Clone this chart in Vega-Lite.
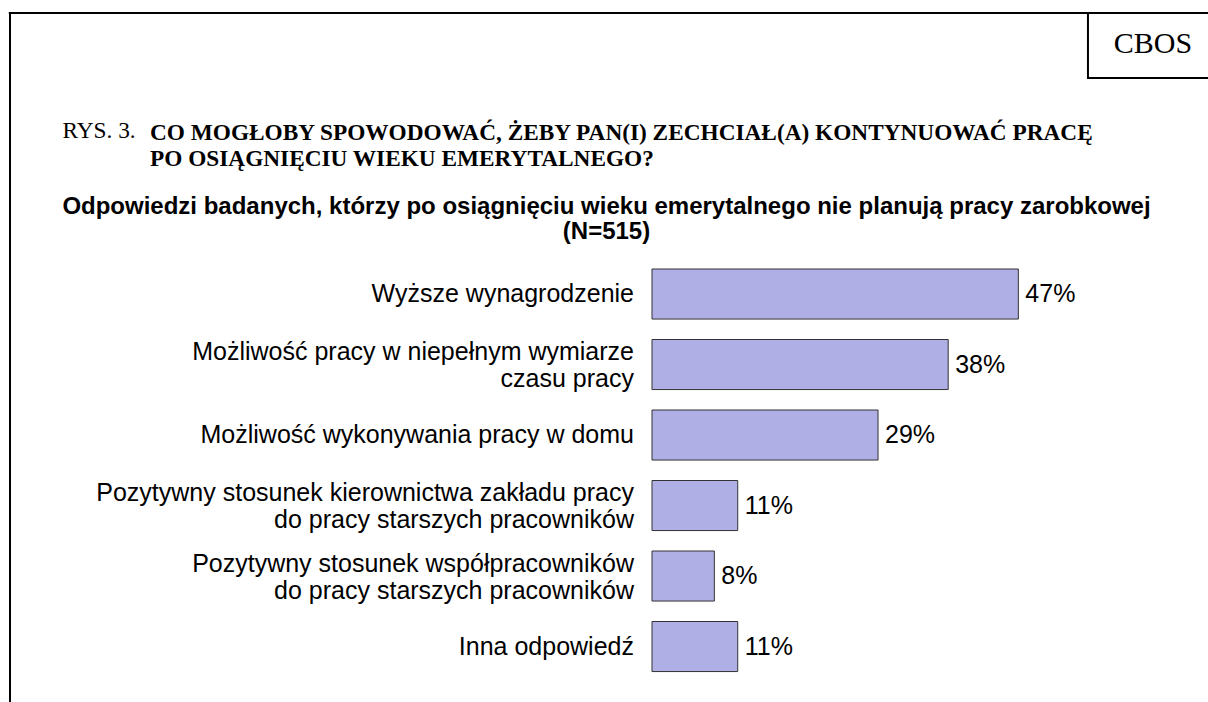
{
  "$schema": "https://vega.github.io/schema/vega-lite/v6.json",
  "width": 1198,
  "height": 689,
  "autosize": {"type": "none"},
  "padding": {"left": 10, "top": 13, "right": 0, "bottom": 0},
  "background": "white",
  "config": {"view": {"stroke": null}},
  "title": {
    "text": ["CO MOGŁOBY SPOWODOWAĆ, ŻEBY PAN(I) ZECHCIAŁ(A) KONTYNUOWAĆ PRACĘ", "PO OSIĄGNIĘCIU WIEKU EMERYTALNEGO?"],
    "anchor": "start",
    "frame": "group",
    "dx": 140,
    "offset": -177,
    "baseline": "alphabetic",
    "font": "Liberation Serif",
    "fontSize": 23.3,
    "fontWeight": "bold",
    "lineHeight": 26,
    "color": "black"
  },
  "layer": [
    {
      "data": {
        "values": [
          {"odpowiedz": "Wyższe wynagrodzenie", "etykieta": ["Wyższe wynagrodzenie"], "procent": 0.47},
          {"odpowiedz": "Możliwość pracy w niepełnym wymiarze czasu pracy", "etykieta": ["Możliwość pracy w niepełnym wymiarze", "czasu pracy"], "procent": 0.38},
          {"odpowiedz": "Możliwość wykonywania pracy w domu", "etykieta": ["Możliwość wykonywania pracy w domu"], "procent": 0.29},
          {"odpowiedz": "Pozytywny stosunek kierownictwa zakładu pracy do pracy starszych pracowników", "etykieta": ["Pozytywny stosunek kierownictwa zakładu pracy", "do pracy starszych pracowników"], "procent": 0.11},
          {"odpowiedz": "Pozytywny stosunek współpracowników do pracy starszych pracowników", "etykieta": ["Pozytywny stosunek współpracowników", "do pracy starszych pracowników"], "procent": 0.08},
          {"odpowiedz": "Inna odpowiedź", "etykieta": ["Inna odpowiedź"], "procent": 0.11}
        ]
      },
      "encoding": {
        "y": {
          "field": "odpowiedz",
          "type": "nominal",
          "sort": null,
          "scale": {"range": [256, 658.56], "paddingInner": 0.29, "paddingOuter": 0},
          "axis": {
            "title": "RYS. 3.",
            "labels": false,
            "ticks": false,
            "domain": false,
            "grid": false,
            "titleAngle": 0,
            "titleX": 52,
            "titleY": 124,
            "titleAlign": "left",
            "titleBaseline": "alphabetic",
            "titleFont": "Liberation Serif",
            "titleFontSize": 23.3,
            "titleFontWeight": "normal",
            "titleColor": "black"
          }
        }
      },
      "layer": [
        {
          "mark": {"type": "bar", "fill": "#AFAFE6", "stroke": "#333333", "strokeWidth": 1},
          "encoding": {
            "x": {
              "field": "procent",
              "type": "quantitative",
              "scale": {"domain": [-0.8236, 0.7133], "nice": false, "zero": false},
              "axis": {
                "orient": "top",
                "title": ["Odpowiedzi badanych, którzy po osiągnięciu wieku emerytalnego nie planują pracy zarobkowej", "(N=515)"],
                "labels": false,
                "ticks": false,
                "domain": false,
                "grid": false,
                "titleX": 596,
                "titleY": 200,
                "titleAlign": "center",
                "titleBaseline": "alphabetic",
                "titleFont": "Liberation Sans",
                "titleFontSize": 24,
                "titleFontWeight": "bold",
                "titleLineHeight": 25,
                "titleColor": "black"
              }
            },
            "x2": {"datum": 0}
          }
        },
        {
          "mark": {"type": "text", "align": "left", "baseline": "middle", "dx": 7, "font": "Liberation Sans", "fontSize": 25, "color": "black"},
          "encoding": {
            "x": {"field": "procent", "type": "quantitative"},
            "text": {"field": "procent", "type": "quantitative", "format": ".0%"}
          }
        },
        {
          "transform": [{"filter": "length(datum.etykieta) == 1"}],
          "mark": {"type": "text", "align": "right", "baseline": "middle", "dx": -18, "font": "Liberation Sans", "fontSize": 25, "lineHeight": 27, "color": "black"},
          "encoding": {
            "x": {"datum": 0, "type": "quantitative"},
            "text": {"field": "etykieta"}
          }
        },
        {
          "transform": [{"filter": "length(datum.etykieta) > 1"}],
          "mark": {"type": "text", "align": "right", "baseline": "middle", "dx": -18, "dy": -12.5, "font": "Liberation Sans", "fontSize": 25, "lineHeight": 27, "color": "black"},
          "encoding": {
            "x": {"datum": 0, "type": "quantitative"},
            "text": {"field": "etykieta"}
          }
        }
      ]
    },
    {
      "data": {"values": [{"znak": "CBOS"}]},
      "layer": [
        {
          "mark": {"type": "rule", "stroke": "black", "strokeWidth": 2},
          "encoding": {
            "x": {"datum": -0.1, "type": "quantitative", "scale": {"domain": [0, 100], "nice": false, "zero": false}, "axis": null},
            "x2": {"datum": 110},
            "y": {"datum": 0, "type": "quantitative", "scale": {"domain": [0, 100], "reverse": true, "nice": false, "zero": false}, "axis": null}
          }
        },
        {
          "mark": {"type": "rule", "stroke": "black", "strokeWidth": 2},
          "encoding": {
            "x": {"datum": 0, "type": "quantitative"},
            "y": {"datum": 0, "type": "quantitative"},
            "y2": {"datum": 110}
          }
        },
        {
          "mark": {"type": "rect", "fill": "white", "stroke": "black", "strokeWidth": 2},
          "encoding": {
            "x": {"datum": 89.98, "type": "quantitative"},
            "x2": {"datum": 110},
            "y": {"datum": 0, "type": "quantitative"},
            "y2": {"datum": 9.434}
          }
        },
        {
          "mark": {"type": "text", "align": "center", "baseline": "alphabetic", "font": "Liberation Serif", "fontSize": 30, "color": "black"},
          "encoding": {
            "x": {"datum": 95.41, "type": "quantitative"},
            "y": {"datum": 5.806, "type": "quantitative"},
            "text": {"field": "znak", "type": "nominal"}
          }
        }
      ]
    }
  ],
  "resolve": {"scale": {"x": "independent", "y": "independent"}}
}
